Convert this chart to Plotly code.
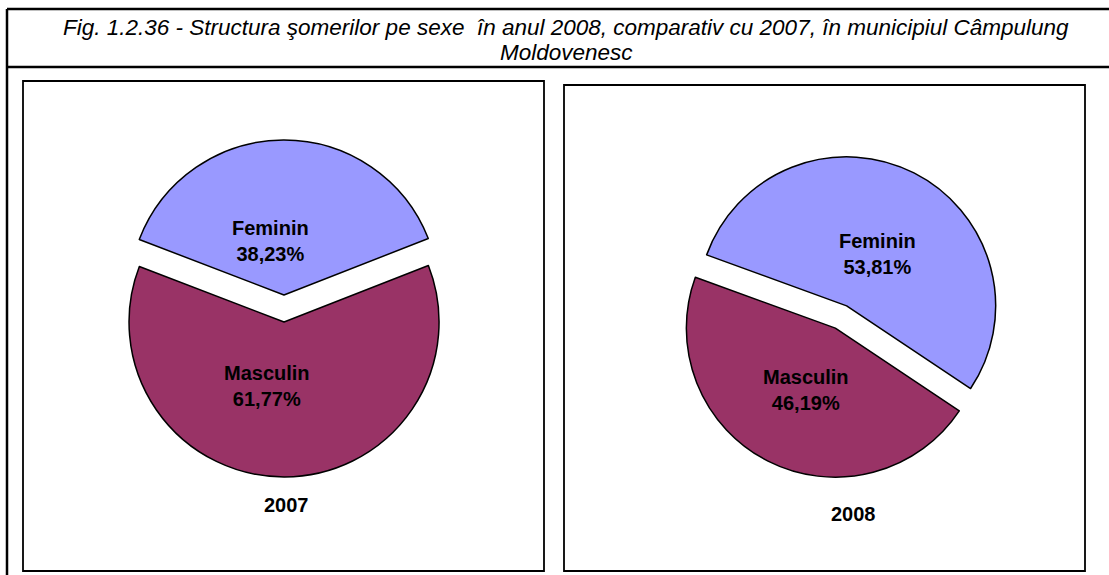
import plotly.graph_objects as go

# ---- data ----
categories = ["Feminin", "Masculin"]
years = ["2007", "2008"]
values_2007 = [38.23, 61.77]
values_2008 = [53.81, 46.19]
title_lines = [
    "Fig. 1.2.36 - Structura şomerilor pe sexe\u00a0 în anul 2008, comparativ cu 2007, în municipiul Câmpulung",
    "Moldovenesc",
]

# ---- styling ----
W, H = 1109, 575
colors = ["#9999FF", "#993366"]
FONT = "Arial, 'Liberation Sans', sans-serif"


def px(x):
    return x / W


def py(y):
    return 1 - y / H


def fmt(v):
    return f"{v:.2f}".replace(".", ",") + "%"


fig = go.Figure()

# pie geometry (pixel centre, radius, pull, rotation)
pies = [
    dict(vals=values_2007, cx=284, cy=308.5, r=155, pull=0.087, rot=-69),
    dict(vals=values_2008, cx=841, cy=317, r=149, pull=0.084, rot=-70),
]

for p in pies:
    half = p["r"] * (1 + p["pull"])
    fig.add_trace(go.Pie(
        labels=categories,
        values=p["vals"],
        sort=False,
        direction="clockwise",
        rotation=p["rot"],
        pull=[p["pull"], p["pull"]],
        marker=dict(colors=colors, line=dict(color="black", width=1.5)),
        textinfo="none",
        hoverinfo="label+percent",
        showlegend=False,
        domain=dict(x=[px(p["cx"] - half), px(p["cx"] + half)],
                    y=[py(p["cy"] + half), py(p["cy"] - half)]),
    ))

annotations = []
# data labels
label_pos = [
    [(270, 241), (267, 386)],
    [(877, 254), (806, 390)],
]
for vals, positions in zip([values_2007, values_2008], label_pos):
    for cat, v, (x, y) in zip(categories, vals, positions):
        annotations.append(dict(
            x=px(x), y=py(y), xref="paper", yref="paper",
            text=f"<b>{cat}<br>{fmt(v)}</b>", showarrow=False,
            font=dict(family=FONT, size=20, color="black"),
            xanchor="center", yanchor="middle", align="center"))

# year labels
for yr, (x, y) in zip(years, [(286, 505), (853, 514)]):
    annotations.append(dict(
        x=px(x), y=py(y), xref="paper", yref="paper",
        text=f"<b>{yr}</b>", showarrow=False,
        font=dict(family=FONT, size=20, color="black"),
        xanchor="center", yanchor="middle"))

# title (two lines)
for line, y in zip(title_lines, [28, 53]):
    annotations.append(dict(
        x=px(566), y=py(y), xref="paper", yref="paper",
        text=f"<i>{line}</i>", showarrow=False,
        font=dict(family=FONT, size=22.5, color="black"),
        xanchor="center", yanchor="middle", align="center"))

shapes = []
# outer frame lines
for (x0, y0, x1, y1) in [(7, 9, W, 9), (7, 67, W, 67), (7, 9, 7, H)]:
    shapes.append(dict(type="line", xref="paper", yref="paper",
                       x0=px(x0), y0=py(y0), x1=px(x1), y1=py(y1),
                       line=dict(color="black", width=2.5)))
# panel frames
for (x0, y0, x1, y1) in [(23, 81, 544, 571), (564, 85, 1085, 571)]:
    shapes.append(dict(type="rect", xref="paper", yref="paper",
                       x0=px(x0), y0=py(y0), x1=px(x1), y1=py(y1),
                       line=dict(color="black", width=1.8)))

fig.update_layout(
    width=W, height=H,
    margin=dict(l=0, r=0, t=0, b=0),
    paper_bgcolor="white", plot_bgcolor="white",
    annotations=annotations, shapes=shapes,
)

fig.write_html("out.html",
               config={"displayModeBar": False},
               post_script="document.body.style.margin='0';document.body.style.overflow='hidden';")
